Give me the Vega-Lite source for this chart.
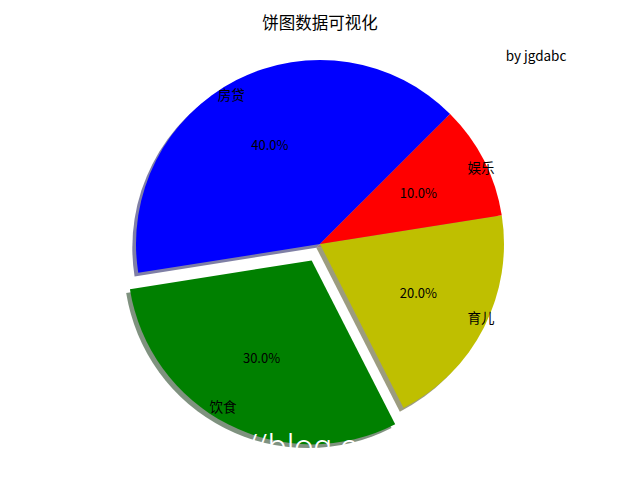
{
  "$schema": "https://vega.github.io/schema/vega-lite/v6.json",
  "description": "Pie chart with shadow and one exploded slice",
  "width": 640,
  "height": 472,
  "autosize": "none",
  "padding": {"left": 0, "right": 0, "top": 8, "bottom": 0},
  "background": "white",
  "title": {
    "text": "饼图数据可视化",
    "font": "Noto Sans CJK SC",
    "fontSize": 16.5,
    "fontWeight": "normal",
    "color": "black",
    "anchor": "middle",
    "offset": -24
  },
  "data": {
    "values": [
      {"name": "育儿", "share": 0.2, "order": 1},
      {"name": "饮食", "share": 0.3, "order": 2},
      {"name": "房贷", "share": 0.4, "order": 3},
      {"name": "娱乐", "share": 0.1, "order": 4}
    ]
  },
  "transform": [
    {"stack": "share", "groupby": [], "sort": [{"field": "order"}], "as": ["start", "end"]},
    {"calculate": "(datum.start + datum.end) / 2", "as": "mid"}
  ],
  "layer": [
    {
      "transform": [{"filter": "datum.name != '饮食'"}],
      "mark": {"type": "arc", "outerRadius": 184, "opacity": 0.5, "xOffset": -3.7, "yOffset": 3.7},
      "encoding": {
        "theta": {"field": "start", "type": "quantitative", "scale": {"domain": [0, 1], "range": [1.41372, 7.6969]}},
        "theta2": {"field": "end"},
        "color": {
          "field": "name", "type": "nominal", "legend": null,
          "scale": {"domain": ["育儿", "饮食", "房贷", "娱乐"], "range": ["#393900", "#002600", "#00004d", "#4d0000"]}
        }
      }
    },
    {
      "transform": [{"filter": "datum.name == '饮食'"}],
      "mark": {"type": "arc", "outerRadius": 184, "opacity": 0.5, "xOffset": -12.05, "yOffset": 20.1},
      "encoding": {
        "theta": {"field": "start", "type": "quantitative", "scale": {"domain": [0, 1], "range": [1.41372, 7.6969]}},
        "theta2": {"field": "end"},
        "color": {
          "field": "name", "type": "nominal", "legend": null,
          "scale": {"domain": ["育儿", "饮食", "房贷", "娱乐"], "range": ["#393900", "#002600", "#00004d", "#4d0000"]}
        }
      }
    },
    {
      "transform": [{"filter": "datum.name != '饮食'"}],
      "mark": {"type": "arc", "outerRadius": 184},
      "encoding": {
        "theta": {"field": "start", "type": "quantitative", "scale": {"domain": [0, 1], "range": [1.41372, 7.6969]}},
        "theta2": {"field": "end"},
        "fill": {
          "field": "name", "type": "nominal", "legend": null,
          "scale": {"domain": ["育儿", "饮食", "房贷", "娱乐"], "range": ["#bfbf00", "#008000", "#0000ff", "#ff0000"]}
        }
      }
    },
    {
      "transform": [{"filter": "datum.name == '饮食'"}],
      "mark": {"type": "arc", "outerRadius": 184, "xOffset": -8.35, "yOffset": 16.4},
      "encoding": {
        "theta": {"field": "start", "type": "quantitative", "scale": {"domain": [0, 1], "range": [1.41372, 7.6969]}},
        "theta2": {"field": "end"},
        "fill": {
          "field": "name", "type": "nominal", "legend": null,
          "scale": {"domain": ["育儿", "饮食", "房贷", "娱乐"], "range": ["#bfbf00", "#008000", "#0000ff", "#ff0000"]}
        }
      }
    },
    {
      "transform": [{"filter": "datum.name == '育儿' || datum.name == '娱乐'"}],
      "mark": {"type": "text", "radius": 165.6, "align": "left", "baseline": "middle", "font": "Noto Sans CJK SC", "fontSize": 13.5, "color": "black"},
      "encoding": {
        "theta": {"field": "mid", "type": "quantitative", "scale": {"domain": [0, 1], "range": [1.41372, 7.6969]}},
        "text": {"field": "name"}
      }
    },
    {
      "transform": [{"filter": "datum.name == '房贷'"}],
      "mark": {"type": "text", "radius": 165.6, "align": "right", "baseline": "middle", "font": "Noto Sans CJK SC", "fontSize": 13.5, "color": "black"},
      "encoding": {
        "theta": {"field": "mid", "type": "quantitative", "scale": {"domain": [0, 1], "range": [1.41372, 7.6969]}},
        "text": {"field": "name"}
      }
    },
    {
      "transform": [{"filter": "datum.name == '饮食'"}],
      "mark": {"type": "text", "radius": 165.6, "align": "right", "baseline": "middle", "dx": -8.35, "dy": 16.4, "font": "Noto Sans CJK SC", "fontSize": 13.5, "color": "black"},
      "encoding": {
        "theta": {"field": "mid", "type": "quantitative", "scale": {"domain": [0, 1], "range": [1.41372, 7.6969]}},
        "text": {"field": "name"}
      }
    },
    {
      "transform": [{"filter": "datum.name != '饮食'"}],
      "mark": {"type": "text", "radius": 110.4, "align": "center", "baseline": "middle", "font": "Noto Sans CJK SC", "fontSize": 13, "color": "black"},
      "encoding": {
        "theta": {"field": "mid", "type": "quantitative", "scale": {"domain": [0, 1], "range": [1.41372, 7.6969]}},
        "text": {"field": "share", "type": "quantitative", "format": ".1%"}
      }
    },
    {
      "transform": [{"filter": "datum.name == '饮食'"}],
      "mark": {"type": "text", "radius": 110.4, "align": "center", "baseline": "middle", "dx": -8.35, "dy": 16.4, "font": "Noto Sans CJK SC", "fontSize": 13, "color": "black"},
      "encoding": {
        "theta": {"field": "mid", "type": "quantitative", "scale": {"domain": [0, 1], "range": [1.41372, 7.6969]}},
        "text": {"field": "share", "type": "quantitative", "format": ".1%"}
      }
    },
    {
      "data": {"values": [{"note": "by jgdabc"}]},
      "mark": {"type": "text", "x": {"expr": "width * 0.8375"}, "y": {"expr": "height * 0.104"}, "align": "center", "baseline": "middle", "font": "Noto Sans CJK SC", "fontSize": 13.5, "color": "black"},
      "encoding": {"text": {"field": "note"}}
    },
    {
      "data": {"values": [{"mark_text": "//blog.csdn.net/jgdabc"}]},
      "mark": {"type": "text", "x": {"expr": "width * 0.382"}, "y": {"expr": "height * 0.953"}, "align": "left", "baseline": "alphabetic", "font": "Roboto", "fontWeight": 300, "fontSize": 34, "color": "white"},
      "encoding": {"text": {"field": "mark_text"}}
    }
  ],
  "resolve": {"scale": {"color": "independent", "fill": "independent"}},
  "config": {"view": {"stroke": null}}
}
